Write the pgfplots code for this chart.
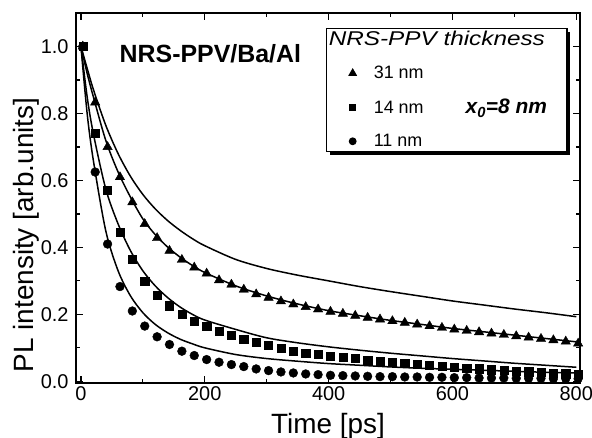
\documentclass[border=0pt]{standalone}
\usepackage{pgfplots}
\pgfplotsset{compat=1.18}
\usepackage{fontspec}
\setmainfont{Liberation Sans}
\newfontfamily\legfont{Liberation Sans}[FakeStretch=1.22]
\usetikzlibrary{shadows}

\pgfplotstableread{
t tri sq ci
3 1.0 1.0 1.0
23 0.833 0.74 0.625
43 0.70 0.57 0.41
63 0.61 0.445 0.283
83 0.535 0.365 0.21
103 0.47 0.30 0.165
123 0.428 0.258 0.133
143 0.39 0.226 0.11
163 0.363 0.20 0.09
183 0.34 0.18 0.077
203 0.322 0.165 0.065
223 0.302 0.15 0.057
243 0.289 0.138 0.05
263 0.274 0.127 0.044
283 0.26 0.117 0.037
303 0.25 0.108 0.032
323 0.239 0.099 0.028
343 0.23 0.091 0.025
363 0.222 0.085 0.022
383 0.215 0.08 0.02
403 0.208 0.076 0.018
423 0.202 0.072 0.017
443 0.196 0.068 0.016
463 0.19 0.064 0.015
483 0.185 0.06 0.014
503 0.18 0.057 0.014
523 0.175 0.054 0.013
543 0.17 0.051 0.013
563 0.165 0.048 0.012
583 0.16 0.045 0.012
603 0.155 0.042 0.011
623 0.151 0.040 0.011
643 0.147 0.038 0.010
663 0.143 0.035 0.010
683 0.139 0.033 0.010
703 0.135 0.031 0.009
723 0.131 0.029 0.009
743 0.127 0.027 0.009
763 0.123 0.025 0.008
783 0.119 0.023 0.008
803 0.113 0.021 0.008
}\datatab

\pgfplotstableread{
t top ftri fsq fci
0 1.0 1.0 1.0 1.0
10 0.935 0.92 0.85 0.80
20 0.872 0.85 0.74 0.66
40 0.765 0.72 0.575 0.45
60 0.68 0.625 0.47 0.33
80 0.612 0.55 0.39 0.255
100 0.558 0.485 0.33 0.205
120 0.515 0.438 0.285 0.17
140 0.48 0.401 0.25 0.145
160 0.451 0.371 0.222 0.126
180 0.426 0.346 0.20 0.112
200 0.405 0.325 0.183 0.10
250 0.364 0.285 0.155 0.08
300 0.337 0.255 0.13 0.068
350 0.317 0.231 0.115 0.06
400 0.30 0.211 0.103 0.053
450 0.283 0.196 0.093 0.048
500 0.268 0.182 0.084 0.043
550 0.254 0.17 0.076 0.039
600 0.24 0.158 0.068 0.036
650 0.228 0.148 0.061 0.033
700 0.216 0.138 0.054 0.030
750 0.205 0.128 0.048 0.027
800 0.193 0.118 0.042 0.025
}\fittab

\begin{document}
\begin{tikzpicture}
\begin{axis}[
  name=ax,
  scale only axis, width=504bp, height=370bp,
  xmin=-8, xmax=806, ymin=-0.005, ymax=1.1,
  axis line style={line width=1.8bp},
  every tick/.style={line width=1.2bp, black},
  major tick length=7bp, minor tick length=4bp,
  tick align=inside,
  xtick={0,200,400,600,800}, minor x tick num=1,
  ytick={0,0.2,0.4,0.6,0.8,1.0}, minor y tick num=1,
  yticklabel style={/pgf/number format/fixed, /pgf/number format/fixed zerofill, /pgf/number format/precision=1, xshift=-4bp},
  /pgf/number format/assume math mode=true,
  ticklabel style={font=\fontsize{20}{24}\selectfont},
  xlabel={Time [ps]}, ylabel={PL intensity [arb.units]},
  label style={font=\fontsize{28}{32}\selectfont},
  xlabel style={at={(axis description cs:0.5,-0.081)}, anchor=north, inner sep=0pt},
  ylabel style={at={(axis description cs:-0.125,0.4)}, anchor=north, inner sep=0pt},
  legend image code/.code={\path (-19.5bp,0bp) (8bp,0bp); \draw[#1,mark options={scale=0.75}] plot coordinates {(0bp,0bp)};},
  legend cell align=left,
  legend style={at={(0.496,0.96)}, anchor=north west, draw=black, line width=1.2bp, fill=white,
    drop shadow={shadow xshift=3bp, shadow yshift=-4bp, fill=black, opacity=1},
    font=\fontsize{18}{21}\selectfont, row sep=15bp, inner xsep=6bp, inner ysep=1bp},
]
\addlegendimage{empty legend}
\addlegendentry{\hspace*{-34.5bp}\legfont\fontsize{20}{24}\selectfont\itshape NRS-PPV thickness}

\addplot[black, line width=1.5bp, smooth, forget plot] table[x=t, y=top] {\fittab};
\addplot[black, line width=1.5bp, smooth, forget plot] table[x=t, y=ftri] {\fittab};
\addplot[black, line width=1.5bp, smooth, forget plot] table[x=t, y=fsq] {\fittab};
\addplot[black, line width=1.5bp, smooth, forget plot] table[x=t, y=fci] {\fittab};

\addplot[only marks, mark=triangle*, mark size=5.4bp, black, fill=black] table[x=t, y=tri] {\datatab};
\addlegendentry{\rule{10.5bp}{0pt}31 nm}
\addplot[only marks, mark=square*, mark size=4.1bp, black, fill=black] table[x=t, y=sq] {\datatab};
\addlegendentry{\rule{10.5bp}{0pt}14 nm\rule{42bp}{0pt}{\fontsize{21}{24}\selectfont\bfseries\itshape x\textsubscript{0}=8 nm}\rule{12bp}{0pt}}
\addplot[only marks, mark=*, mark size=4.4bp, black, fill=black] table[x=t, y=ci] {\datatab};
\addlegendentry{\rule{10.5bp}{0pt}11 nm\rule[-13bp]{0pt}{13bp}}

\node[font=\fontsize{25}{30}\selectfont\bfseries, anchor=base] at (axis cs:209,0.952) {NRS-PPV/Ba/Al};
\end{axis}
\pgfresetboundingbox
\path[use as bounding box] ([shift={(-76bp,-55bp)}]ax.south west) rectangle ([shift={(12bp,13bp)}]ax.north east);
\end{tikzpicture}
\end{document}
